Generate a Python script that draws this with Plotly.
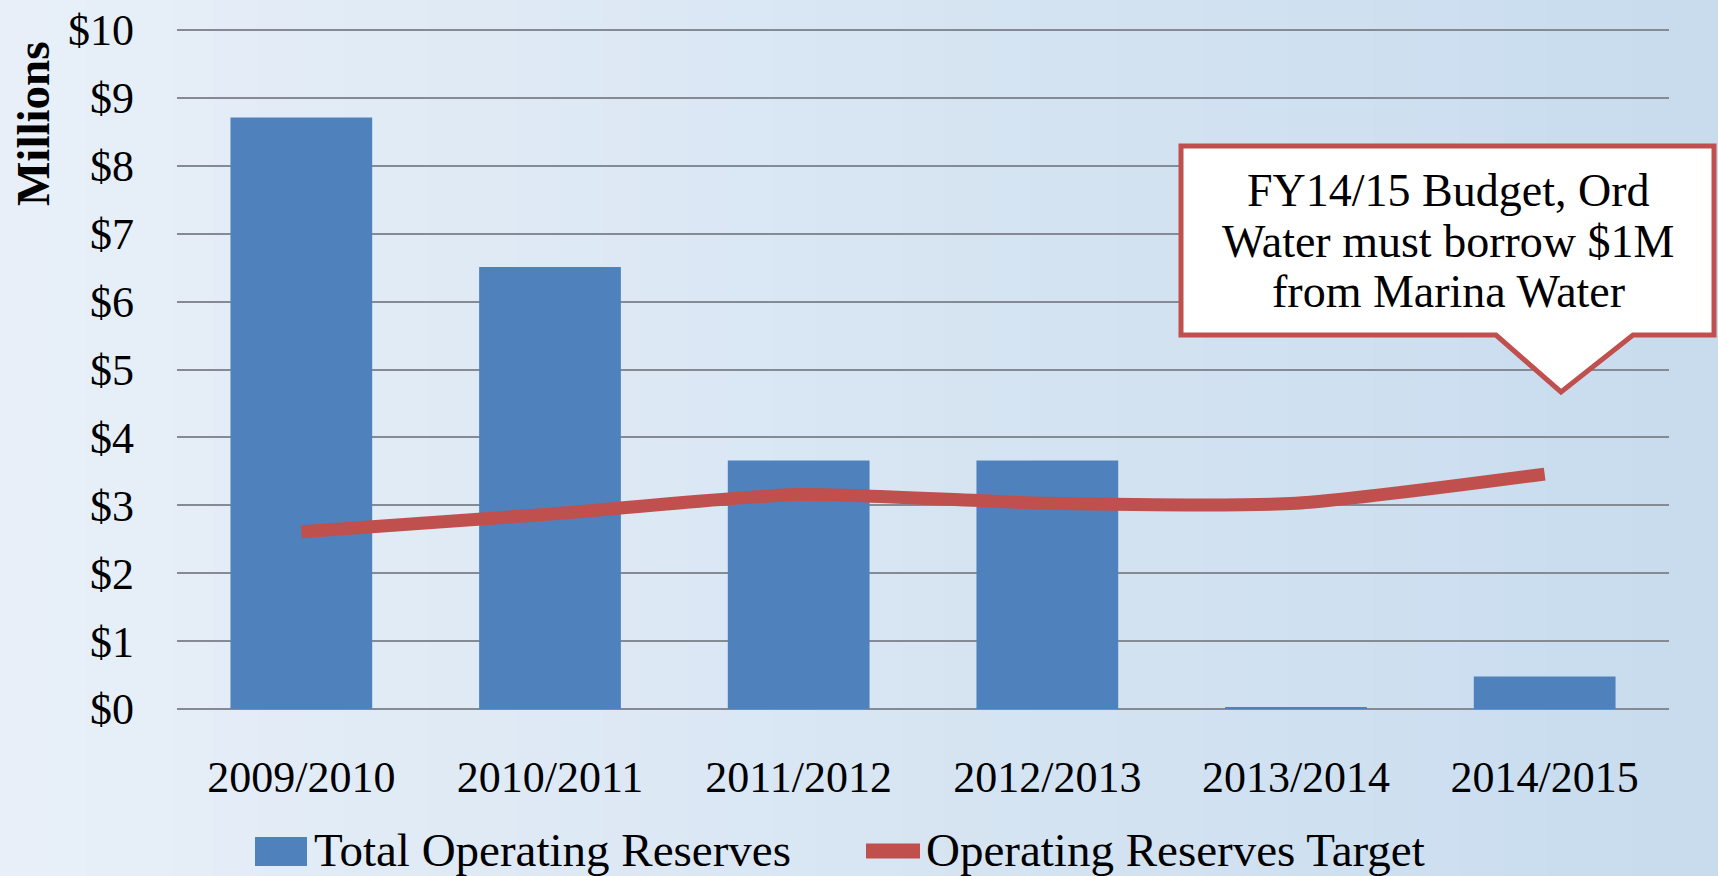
import plotly.graph_objects as go

categories = ["2009/2010", "2010/2011", "2011/2012", "2012/2013", "2013/2014", "2014/2015"]
total_reserves = [8.71, 6.51, 3.66, 3.66, 0.03, 0.48]
reserves_target = [2.61, 2.87, 3.16, 3.03, 3.03, 3.46]
y_ticks = list(range(0, 11))
y_tick_labels = [f"${v}" for v in y_ticks]
series_names = ["Total Operating Reserves", "Operating Reserves Target"]
callout_lines = ["FY14/15 Budget, Ord", "Water must borrow $1M", "from Marina Water"]

FONT = "Liberation Serif"
BLUE = "#4F81BD"
RED = "#C0504D"

fig = go.Figure()
fig.add_trace(go.Bar(
    x=categories, y=total_reserves, name=series_names[0],
    marker=dict(color=BLUE, line=dict(width=0)), showlegend=False,
))
fig.add_trace(go.Scatter(
    x=categories, y=reserves_target, name=series_names[1],
    mode="lines", line=dict(color=RED, width=13, shape="spline", smoothing=0.6),
    showlegend=False,
))

W, H = 1718, 876
L, R, T, B = 177, 49, 28, 167
pw, ph = W - L - R, H - T - B

def px(x):
    return (x - L) / pw

def py(y):
    return (H - B - y) / ph

# background gradient (left pale, right bluer)
n = 40
def lerp(a, b, t):
    return int(round(a + (b - a) * t))
c0, c1 = (232, 239, 248), (200, 220, 238)
shapes = []
for i in range(n):
    t = i / (n - 1)
    col = f"rgb({lerp(c0[0], c1[0], t)},{lerp(c0[1], c1[1], t)},{lerp(c0[2], c1[2], t)})"
    shapes.append(dict(type="rect", xref="paper", yref="paper",
                       x0=px(i * W / n), x1=px((i + 1) * W / n + 1),
                       y0=py(H), y1=py(0), fillcolor=col, line=dict(width=0),
                       layer="below"))

# callout box with pointer
bx0, bx1, by0, by1 = 1181, 1714, 146, 335
tipx, tipy = 1561, 392
b0, b1 = 1496, 1633
path = (f"M{px(bx0)},{py(by0)} L{px(bx1)},{py(by0)} L{px(bx1)},{py(by1)} "
        f"L{px(b1)},{py(by1)} L{px(tipx)},{py(tipy)} L{px(b0)},{py(by1)} "
        f"L{px(bx0)},{py(by1)} Z")
shapes.append(dict(type="path", xref="paper", yref="paper", path=path,
                   fillcolor="white", line=dict(color=RED, width=5), layer="above"))

# manual legend symbols
shapes.append(dict(type="rect", xref="paper", yref="paper",
                   x0=px(255), x1=px(307), y0=py(866), y1=py(837),
                   fillcolor=BLUE, line=dict(width=0), layer="above"))
shapes.append(dict(type="line", xref="paper", yref="paper",
                   x0=px(866), x1=px(920), y0=py(851), y1=py(851),
                   line=dict(color=RED, width=15), layer="above"))

annotations = []
for i, txt in enumerate(callout_lines):
    annotations.append(dict(text=txt, xref="paper", yref="paper", x=px(1448), y=py(191 + 50 * i),
                            showarrow=False, font=dict(family=FONT, size=46, color="black"),
                            xanchor="center", yanchor="middle"))
annotations.append(dict(text="<b>Millions</b>", xref="paper", yref="paper", x=px(33), y=py(124),
                        textangle=-90, showarrow=False,
                        font=dict(family=FONT, size=47, color="black"),
                        xanchor="center", yanchor="middle"))
annotations.append(dict(text=series_names[0], xref="paper", yref="paper", x=px(312), y=py(850),
                        showarrow=False, font=dict(family=FONT, size=47, color="black"),
                        xanchor="left", yanchor="middle"))
annotations.append(dict(text=series_names[1], xref="paper", yref="paper", x=px(924), y=py(850),
                        showarrow=False, font=dict(family=FONT, size=47, color="black"),
                        xanchor="left", yanchor="middle"))

fig.update_layout(
    width=W, height=H,
    margin=dict(l=L, r=R, t=T, b=B, pad=0, autoexpand=False),
    paper_bgcolor="#dce7f3", plot_bgcolor="rgba(0,0,0,0)",
    bargap=0.43,
    shapes=shapes, annotations=annotations,
    showlegend=False,
    xaxis=dict(showgrid=False, showline=False, ticks="", ticklabelstandoff=38,
               tickfont=dict(family=FONT, size=44, color="black")),
    yaxis=dict(range=[0, 10.03], tickvals=y_ticks, ticktext=y_tick_labels,
               showgrid=True, gridcolor="#858b95", gridwidth=2,
               zeroline=True, zerolinecolor="#858b95", zerolinewidth=2,
               ticks="", ticklabelstandoff=42,
               tickfont=dict(family=FONT, size=44, color="black")),
)

fig.write_html("out.html")
